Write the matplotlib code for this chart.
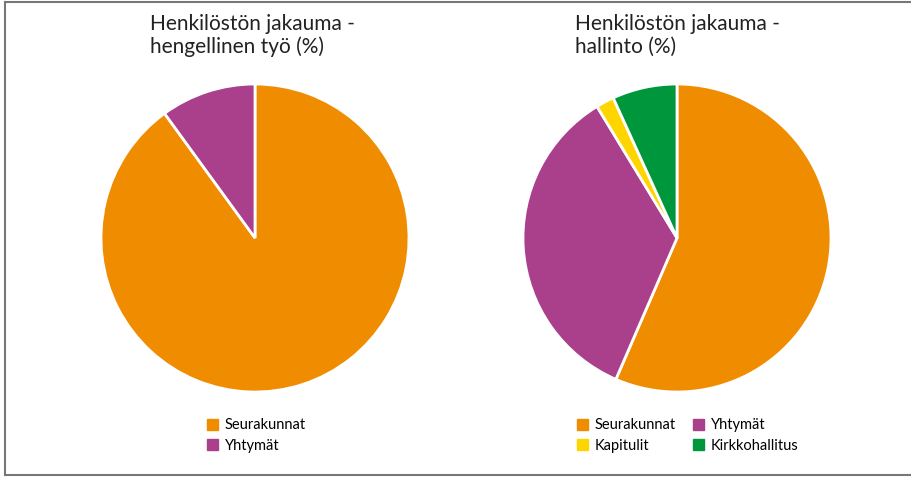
import matplotlib
matplotlib.use('Agg')
import matplotlib.pyplot as plt
from matplotlib.lines import Line2D
from matplotlib.patches import Patch

# data
left_labels = ['Seurakunnat', 'Yhtymät']
left_values = [90.0, 10.0]
right_labels = ['Seurakunnat', 'Yhtymät', 'Kapitulit', 'Kirkkohallitus']
right_values = [56.5, 34.8, 1.9, 6.8]
colors = ['#f08c00', '#aa3f8c', '#ffd500', '#00963c']

plt.rcParams['font.family'] = ['Lato', 'DejaVu Sans']

W, H = 912, 478
fig = plt.figure(figsize=(W / 100, H / 100), dpi=100)

# frame (top, left, bottom)
fig.add_artist(Line2D([5 / W, 1], [1 - 2 / H, 1 - 2 / H], color='#777777', lw=1.5))
fig.add_artist(Line2D([5 / W, 5 / W], [1 - 2 / H, 1 - 475 / H], color='#777777', lw=1.5))
fig.add_artist(Line2D([5 / W, 1], [1 - 475 / H, 1 - 475 / H], color='#777777', lw=1.5))


def pie_axes(cx, cy, r):
	return fig.add_axes([(cx - r) / W, 1 - (cy + r) / H, 2 * r / W, 2 * r / H])


r = 154
ax1 = pie_axes(255, 238, r)
ax1.pie(left_values, colors=colors[:2], startangle=90, counterclock=False,
	wedgeprops=dict(edgecolor='white', linewidth=2))
ax1.set_xlim(-1, 1)
ax1.set_ylim(-1, 1)

ax2 = pie_axes(677, 238, r)
ax2.pie(right_values, colors=colors, startangle=90, counterclock=False,
	wedgeprops=dict(edgecolor='white', linewidth=2))
ax2.set_xlim(-1, 1)
ax2.set_ylim(-1, 1)

# titles
tkw = dict(fontsize=15, color='#222222', ha='left', va='top', linespacing=1.15)
fig.text(150 / W, 1 - 14 / H, 'Henkilöstön jakauma -\nhengellinen työ (%)', **tkw)
fig.text(575 / W, 1 - 14 / H, 'Henkilöstön jakauma -\nhallinto (%)', **tkw)

# legends
lkw = dict(frameon=False, fontsize=10.5, handlelength=0.75, handleheight=0.75,
	handletextpad=0.45, labelspacing=0.45, borderpad=0, loc='upper left',
	columnspacing=1.2)
h1 = [Patch(color=c) for c in colors[:2]]
fig.legend(h1, left_labels, bbox_to_anchor=(200 / W, 1 - 411 / H), **lkw)

h2 = [Patch(color=c) for c in colors]
# order so that rows read Seurakunnat, Yhtymät / Kapitulit, Kirkkohallitus
order = [0, 2, 1, 3]
fig.legend([h2[i] for i in order], [right_labels[i] for i in order], ncol=2,
	bbox_to_anchor=(570 / W, 1 - 411 / H), **lkw)

fig.savefig('out.png', dpi=100)
